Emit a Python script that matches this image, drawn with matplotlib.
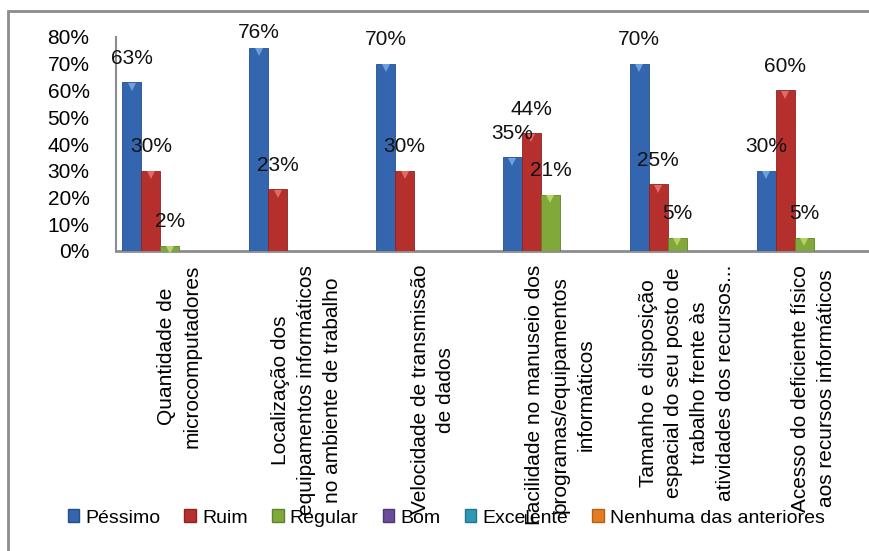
import matplotlib
matplotlib.use("Agg")
import matplotlib.pyplot as plt
import matplotlib.patches as mpatches
import numpy as np

# Dados do gráfico (percentuais)
categorias = [
    "Quantidade de\nmicrocomputadores",
    "Localização dos\nequipamentos informáticos\nno ambiente de trabalho",
    "Velocidade de transmissão\nde dados",
    "Facilidade no manuseio dos\nprogramas/equipamentos\ninformáticos",
    "Tamanho e disposição\nespacial do seu posto de\ntrabalho frente às\natividades dos recursos...",
    "Acesso do deficiente físico\naos recursos informáticos",
]
series = ["Péssimo", "Ruim", "Regular", "Bom", "Excelente", "Nenhuma das anteriores"]
pessimo = [63, 76, 70, 35, 70, 30]
ruim = [30, 23, 30, 44, 25, 60]
regular = [2, 0, 0, 21, 5, 5]
bom = [0, 0, 0, 0, 0, 0]
excelente = [0, 0, 0, 0, 0, 0]
nenhuma = [0, 0, 0, 0, 0, 0]
yticks = [0, 10, 20, 30, 40, 50, 60, 70, 80]

valores = [pessimo, ruim, regular, bom, excelente, nenhuma]
cores = ["#3366AE", "#B5302D", "#80A93A", "#6B4B9A", "#2F98B8", "#E27D23"]
bordas = ["#24508F", "#8E2321", "#5F822A", "#4E3577", "#217690", "#B85F12"]
topos = ["#6E9FE0", "#E06A68", "#B4D466", "#9A80C8", "#70C8E0", "#F8B070"]

fig = plt.figure(figsize=(8.69, 5.51), dpi=100)
fig.patch.set_facecolor("white")

# moldura cinza (cortada à direita e embaixo)
fig.patches.append(mpatches.Rectangle((8 / 869, -0.2), 1.2, 1.2 - 11 / 551,
                                      transform=fig.transFigure, fill=False,
                                      edgecolor="#8C8C8C", linewidth=2))

ax = fig.add_axes([116 / 869, 300 / 551, 761 / 869, 214 / 551])
x = np.arange(len(categorias))
largura = 0.15
n = len(series)

for i, (nome, vals) in enumerate(zip(series, valores)):
    pos = x - 0.45 + largura * (i + 0.5)
    ax.bar(pos, vals, largura, color=cores[i], edgecolor=bordas[i],
           linewidth=0.6, label=nome, zorder=3)
    for xp, v in zip(pos, vals):
        if v <= 0:
            continue
        # pequeno bisel claro no topo da barra
        ax.plot(xp, v - 1.7, marker="v", markersize=6, color=topos[i],
                markeredgewidth=0, zorder=4, clip_on=False)
        ax.text(xp, min(v + 9.0, 81.5), f"{v}%", ha="center", va="center",
                fontsize=15, family="Liberation Sans", color="#111111",
                zorder=5, clip_on=False)

ax.set_ylim(0, 80)
ax.set_xlim(-0.5, len(categorias) - 0.5)
ax.set_yticks(yticks)
ax.set_yticklabels([f"{t}%" for t in yticks], fontsize=15, family="Liberation Sans")
ax.set_xticks(x)
ax.set_xticklabels(categorias, rotation=90, ha="center", va="top",
                   multialignment="center", fontsize=15, family="Liberation Sans",
                   linespacing=1.45)
ax.tick_params(axis="y", length=0, pad=19)
ax.tick_params(axis="x", length=0, pad=10)

for s in ["top", "right"]:
    ax.spines[s].set_visible(False)
ax.spines["left"].set_color("#8C8C8C")
ax.spines["left"].set_linewidth(1.5)
ax.spines["bottom"].set_color("#8C8C8C")
ax.spines["bottom"].set_linewidth(2)

handles = [mpatches.Patch(facecolor=cores[i], edgecolor=bordas[i], label=series[i])
           for i in range(n)]
fig.legend(handles=handles, loc="center", bbox_to_anchor=(446 / 869, 1 - 518 / 551),
           ncol=6, frameon=False, prop={"family": "Liberation Sans", "size": 14},
           handlelength=0.6, handleheight=0.6, handletextpad=0.3,
           columnspacing=1.25, borderaxespad=0)

fig.savefig("out.png", dpi=100, facecolor="white")
